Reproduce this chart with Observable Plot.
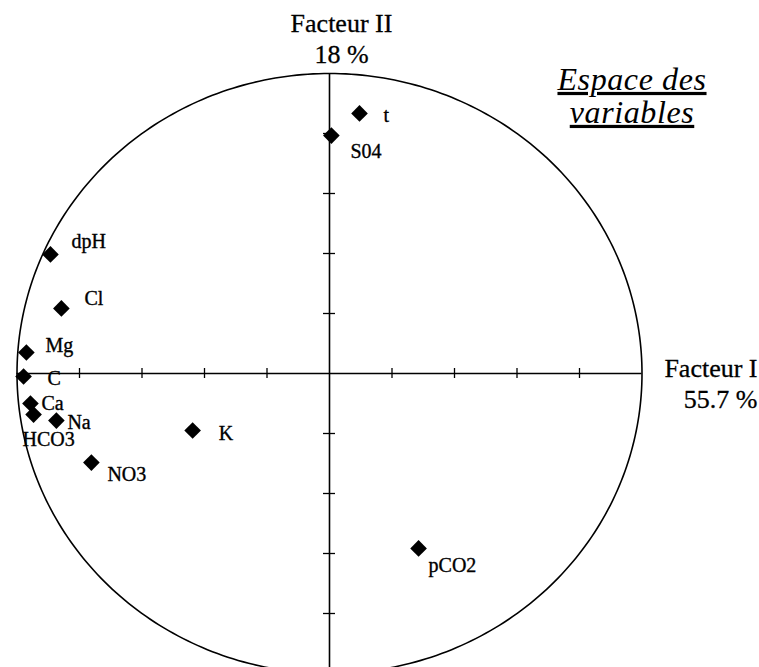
<!DOCTYPE html>
<html>
<head>
<meta charset="utf-8">
<script src="https://cdn.jsdelivr.net/npm/d3@7"></script>
<script src="https://cdn.jsdelivr.net/npm/@observablehq/plot@0.6"></script>
<style>
  body { margin: 0; background: #fff; }
  #chart svg { display: block; }
</style>
</head>
<body>
<div id="chart"></div>
<script>
// ---- data ----
const variables = ["t", "S04", "dpH", "Cl", "Mg", "C", "Ca", "Na", "HCO3", "K", "NO3", "pCO2"];
const factor1   = [0.096, 0.006, -0.893, -0.858, -0.970, -0.979, -0.957, -0.874, -0.947, -0.438, -0.762, 0.285];
const factor2   = [0.867, 0.793, 0.397, 0.217, 0.070, -0.010, -0.100, -0.157, -0.137, -0.190, -0.297, -0.583];
const axisTicks = [-0.8, -0.6, -0.4, -0.2, 0.2, 0.4, 0.6, 0.8];
const axis1Title = ["Facteur I", "55.7 %"];
const axis2Title = ["Facteur II", "18 %"];
const panelTitle = ["Espace des", "variables"];

// ---- label placement (style, not data): [dx, baseline offset] in px ----
const labelOffset = {
  t: [24, 9], S04: [19, 22], dpH: [21, -6], Cl: [23, -3], Mg: [19, -1], C: [24, 8],
  Ca: [11, 6], Na: [11, 8], HCO3: [-11, 31], K: [26, 9], NO3: [16, 18], pCO2: [10, 24]
};

const rows = variables.map((v, i) => ({name: v, f1: factor1[i], f2: factor2[i]}));
// unit correlation circle outline
const circle = d3.range(0, 361, 1).map(a => ({cx: Math.cos(a * Math.PI / 180), cy: Math.sin(a * Math.PI / 180)}));

const labelMarks = rows.map(r => Plot.text([r], {
  x: "f1", y: "f2", text: "name",
  dx: labelOffset[r.name][0], dy: labelOffset[r.name][1],
  textAnchor: "start", lineAnchor: "bottom", fontSize: 20, fill: "black",
  stroke: "black", strokeWidth: 0.35
}));

const plot = Plot.plot({
  width: 759,
  height: 667,
  margin: 0,
  x: {domain: [-1, 1], range: [16.5, 641.5], axis: null},
  y: {domain: [-1, 1], range: [673, 73], axis: null},
  style: {fontFamily: "'Liberation Serif', 'Times New Roman', serif", background: "#fff", color: "black", overflow: "hidden"},
  marks: [
    Plot.line(circle, {x: "cx", y: "cy", stroke: "black", strokeWidth: 1.6}),
    Plot.ruleY([0], {x1: -1, x2: 1, stroke: "black", strokeWidth: 1.6}),
    Plot.ruleX([0], {y1: -1, y2: 1, stroke: "black", strokeWidth: 1.6}),
    Plot.ruleX(axisTicks, {x: d => d, y1: 0, y2: 0, insetTop: -5, insetBottom: -5, stroke: "black", strokeWidth: 1.3}),
    Plot.ruleY(axisTicks, {y: d => d, x1: 0, x2: 0, insetLeft: -6, insetRight: -6, stroke: "black", strokeWidth: 1.3}),
    Plot.dot(rows, {x: "f1", y: "f2", symbol: "diamond2", r: 7.5, fill: "black", stroke: null}),
    ...labelMarks,
    Plot.text([axis2Title.join("\n")], {
      x: () => 0, frameAnchor: "top", text: d => d, dx: 12, dy: 10,
      textAnchor: "middle", lineAnchor: "top", lineHeight: 1.19, fontSize: 26, fill: "black",
      stroke: "black", strokeWidth: 0.3
    }),
    Plot.text([axis1Title.join("\n")], {
      y: () => 0, frameAnchor: "right", text: d => d, dx: -2, dy: -18,
      textAnchor: "end", lineAnchor: "top", lineHeight: 1.19, fontSize: 26, fill: "black",
      stroke: "black", strokeWidth: 0.3
    }),
    Plot.text([panelTitle.join("\n")], {
      frameAnchor: "top", text: d => d, dx: 252, dy: 66,
      textAnchor: "middle", lineAnchor: "top", lineHeight: 1.03, fontSize: 32,
      fontStyle: "italic", fill: "black", className: "espace"
    })
  ]
});

plot.querySelectorAll("text").forEach(t => {
  if (t.textContent.includes("Espace")) {
    t.style.textDecoration = "underline";
    t.style.letterSpacing = "0.6px";
  }
});

document.getElementById("chart").appendChild(plot);
</script>
</body>
</html>
